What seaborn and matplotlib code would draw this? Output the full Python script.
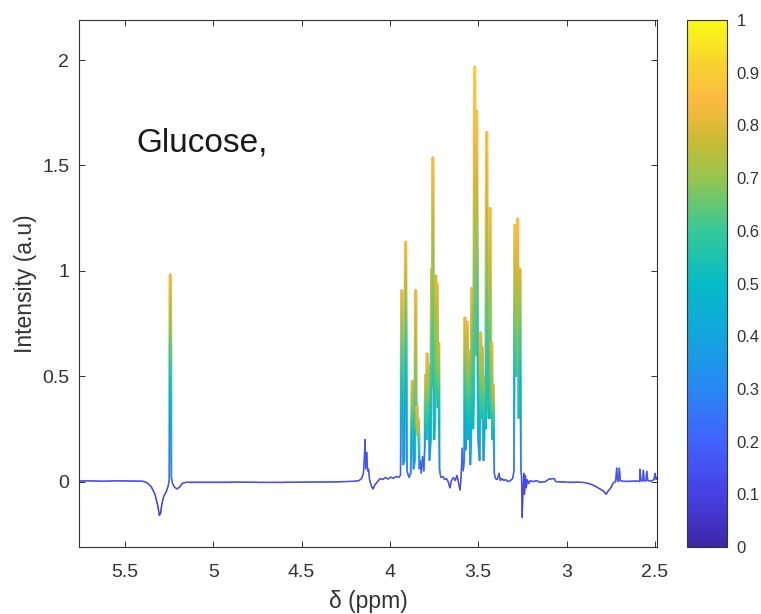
import numpy as np
import pandas as pd
import matplotlib
matplotlib.use("Agg")
import matplotlib.pyplot as plt
import seaborn as sns
from matplotlib.collections import LineCollection
from matplotlib.colors import LinearSegmentedColormap, Normalize
from matplotlib.cm import ScalarMappable
from matplotlib.ticker import FuncFormatter

# ---- spectrum trace: chemical shift (ppm), intensity (a.u.), correlation colour value ----
ppm = [
    5.760, 5.700, 5.620, 5.550, 5.470, 5.400, 5.375, 5.350, 5.330, 5.315,
    5.305, 5.298, 5.290, 5.280, 5.265, 5.255, 5.249, 5.243, 5.237, 5.230,
    5.220, 5.205, 5.190, 5.175, 5.150, 5.050, 4.900, 4.750, 4.600, 4.450,
    4.300, 4.200, 4.175, 4.160, 4.150, 4.145, 4.141, 4.137, 4.131, 4.126,
    4.121, 4.115, 4.105, 4.095, 4.085, 4.070, 4.055, 4.040, 4.025, 4.010,
    3.995, 3.980, 3.965, 3.950, 3.940, 3.932, 3.925, 3.918, 3.911, 3.903,
    3.892, 3.882, 3.873, 3.866, 3.859, 3.854, 3.850, 3.846, 3.842, 3.838,
    3.833, 3.828, 3.822, 3.815, 3.808, 3.803, 3.797, 3.793, 3.789, 3.785,
    3.782, 3.776, 3.769, 3.763, 3.760, 3.757, 3.750, 3.745, 3.741, 3.737,
    3.733, 3.728, 3.724, 3.719, 3.712, 3.700, 3.690, 3.680, 3.670, 3.660,
    3.652, 3.640, 3.630, 3.620, 3.610, 3.603, 3.597, 3.590, 3.585, 3.579,
    3.575, 3.570, 3.566, 3.562, 3.556, 3.551, 3.545, 3.541, 3.537, 3.530,
    3.525, 3.520, 3.514, 3.509, 3.500, 3.492, 3.486, 3.481, 3.477, 3.470,
    3.466, 3.462, 3.457, 3.452, 3.445, 3.439, 3.433, 3.428, 3.424, 3.419,
    3.415, 3.409, 3.402, 3.392, 3.382, 3.375, 3.365, 3.355, 3.345, 3.330,
    3.318, 3.305, 3.298, 3.292, 3.284, 3.277, 3.270, 3.264, 3.258, 3.255,
    3.251, 3.246, 3.242, 3.238, 3.233, 3.228, 3.222, 3.215, 3.205, 3.190,
    3.170, 3.150, 3.120, 3.100, 3.070, 3.060, 3.000, 2.950, 2.900, 2.870,
    2.840, 2.810, 2.790, 2.776, 2.765, 2.750, 2.735, 2.722, 2.716, 2.712,
    2.706, 2.701, 2.696, 2.680, 2.640, 2.600, 2.586, 2.584, 2.578, 2.568,
    2.565, 2.560, 2.550, 2.546, 2.540, 2.520, 2.505, 2.499, 2.493, 2.488,
]
intensity = [
    0.003, 0.004, 0.002, 0.004, 0.003, 0.002, -0.005, -0.025, -0.060, -0.110,
    -0.160, -0.150, -0.100, -0.070, -0.045, -0.020, 0.010, 0.985, 0.020, -0.010,
    -0.025, -0.035, -0.025, -0.008, -0.002, -0.002, -0.002, -0.003, -0.003, -0.002,
    -0.001, 0.002, 0.005, 0.015, 0.040, 0.100, 0.200, 0.060, 0.140, 0.050,
    0.060, 0.010, -0.020, -0.035, -0.015, 0.000, 0.015, 0.010, 0.020, 0.012,
    0.022, 0.015, 0.025, 0.020, 0.030, 0.910, 0.080, 0.100, 1.140, 0.050,
    0.020, 0.040, 0.480, 0.060, 0.100, 0.910, 0.250, 0.360, 0.220, 0.300,
    0.060, 0.100, 0.040, 0.120, 0.050, 0.150, 0.510, 0.200, 0.610, 0.250,
    0.560, 0.100, 0.200, 1.010, 0.450, 1.540, 0.200, 0.300, 0.980, 0.400,
    0.940, 0.350, 0.660, 0.060, 0.020, 0.025, 0.010, 0.015, 0.000, -0.030,
    0.005, 0.020, 0.005, 0.030, -0.010, -0.040, 0.020, 0.160, 0.050, 0.100,
    0.780, 0.150, 0.300, 0.760, 0.200, 0.620, 0.080, 0.200, 0.920, 0.250,
    0.400, 1.970, 0.600, 1.760, 0.200, 0.100, 0.710, 0.300, 0.640, 0.100,
    0.200, 0.500, 0.250, 1.660, 0.400, 0.300, 1.300, 0.300, 0.660, 0.200,
    0.460, 0.040, 0.015, 0.010, 0.040, 0.005, 0.015, 0.005, 0.010, 0.000,
    0.005, 0.015, 0.050, 1.220, 0.500, 1.250, 0.300, 1.010, 0.050, 0.030,
    -0.170, -0.020, 0.040, -0.060, 0.030, -0.030, 0.010, -0.010, 0.005, 0.000,
    0.005, -0.003, 0.000, 0.012, 0.015, 0.000, -0.002, -0.002, -0.004, -0.010,
    -0.020, -0.035, -0.045, -0.060, -0.045, -0.030, -0.005, 0.000, 0.065, 0.010,
    0.000, 0.065, 0.005, 0.002, 0.002, 0.003, 0.003, 0.060, 0.005, 0.003,
    0.055, 0.005, 0.003, 0.050, 0.005, 0.003, 0.010, 0.040, 0.010, 0.020,
]
correlation = [
    0.14, 0.14, 0.14, 0.14, 0.14, 0.14, 0.12, 0.11, 0.10, 0.09,
    0.08, 0.08, 0.09, 0.10, 0.11, 0.13, 0.25, 0.86, 0.30, 0.14,
    0.12, 0.11, 0.12, 0.13, 0.14, 0.14, 0.14, 0.14, 0.14, 0.14,
    0.14, 0.14, 0.14, 0.15, 0.15, 0.16, 0.18, 0.16, 0.17, 0.15,
    0.15, 0.14, 0.12, 0.11, 0.12, 0.14, 0.15, 0.15, 0.16, 0.15,
    0.16, 0.15, 0.17, 0.17, 0.20, 0.84, 0.35, 0.40, 0.86, 0.30,
    0.20, 0.30, 0.83, 0.35, 0.45, 0.84, 0.65, 0.84, 0.70, 0.82,
    0.35, 0.20, 0.15, 0.20, 0.18, 0.30, 0.83, 0.50, 0.84, 0.55,
    0.82, 0.35, 0.45, 0.80, 0.60, 0.87, 0.45, 0.55, 0.80, 0.60,
    0.82, 0.55, 0.80, 0.30, 0.18, 0.17, 0.15, 0.15, 0.14, 0.12,
    0.14, 0.15, 0.14, 0.15, 0.13, 0.11, 0.15, 0.22, 0.20, 0.30,
    0.83, 0.40, 0.50, 0.84, 0.45, 0.82, 0.35, 0.45, 0.86, 0.50,
    0.55, 0.92, 0.60, 0.88, 0.45, 0.35, 0.84, 0.55, 0.82, 0.35,
    0.45, 0.80, 0.50, 0.88, 0.55, 0.50, 0.86, 0.55, 0.82, 0.45,
    0.80, 0.25, 0.15, 0.14, 0.15, 0.14, 0.14, 0.14, 0.14, 0.14,
    0.14, 0.15, 0.25, 0.86, 0.60, 0.88, 0.55, 0.80, 0.25, 0.15,
    0.08, 0.12, 0.15, 0.10, 0.14, 0.12, 0.14, 0.14, 0.14, 0.14,
    0.14, 0.14, 0.14, 0.15, 0.15, 0.14, 0.14, 0.14, 0.14, 0.13,
    0.12, 0.11, 0.11, 0.10, 0.11, 0.12, 0.13, 0.14, 0.16, 0.14,
    0.14, 0.16, 0.14, 0.14, 0.14, 0.14, 0.14, 0.16, 0.14, 0.14,
    0.16, 0.14, 0.14, 0.16, 0.14, 0.14, 0.14, 0.15, 0.14, 0.14,
]

x_ticks = [5.5, 5.0, 4.5, 4.0, 3.5, 3.0, 2.5]
y_ticks = [0, 0.5, 1.0, 1.5, 2.0]
cbar_ticks = [0, 0.1, 0.2, 0.3, 0.4, 0.5, 0.6, 0.7, 0.8, 0.9, 1.0]
annotation = "Glucose,"

# ---- parula-like colour map ----
parula_stops = [
    (0.00, (0.242, 0.150, 0.660)),
    (0.10, (0.275, 0.255, 0.895)),
    (0.20, (0.255, 0.385, 0.990)),
    (0.30, (0.160, 0.530, 0.960)),
    (0.40, (0.070, 0.650, 0.870)),
    (0.50, (0.020, 0.730, 0.780)),
    (0.60, (0.210, 0.790, 0.600)),
    (0.70, (0.580, 0.775, 0.310)),
    (0.78, (0.810, 0.730, 0.200)),
    (0.85, (0.990, 0.730, 0.250)),
    (0.92, (0.970, 0.830, 0.180)),
    (1.00, (0.976, 0.984, 0.080)),
]
parula = LinearSegmentedColormap.from_list("parula_like", parula_stops, N=256)
norm = Normalize(0, 1)

sns.set_theme(style="white")
ink = (0.2, 0.2, 0.2)
plt.rcParams.update({
    "font.family": ["Liberation Sans", "DejaVu Sans"],
    "axes.edgecolor": ink,
    "axes.linewidth": 0.8,
    "xtick.color": ink,
    "ytick.color": ink,
    "axes.labelcolor": ink,
})

df = pd.DataFrame({"ppm": ppm, "intensity": intensity, "corr": correlation})
df = df.sort_values("ppm", ascending=False).reset_index(drop=True)

fig = plt.figure(figsize=(7.61, 6.14), dpi=100)
ax = fig.add_axes([0.1038, 0.1091, 0.7595, 0.8583])
cax = fig.add_axes([0.9028, 0.1091, 0.0526, 0.8583])

# underlying trace
sns.lineplot(data=df, x="ppm", y="intensity", ax=ax, sort=False, estimator=None,
             color=parula(norm(0.14)), linewidth=0.9, legend=False)

# colour-graded trace: each segment is split so the colour blends between its end values;
# the strongly correlated peaks are stroked a little heavier than the baseline
px = df["ppm"].to_numpy()
py = df["intensity"].to_numpy()
pc = df["corr"].to_numpy()
segs, vals = [], []
for i in range(len(px) - 1):
    n = int(abs(py[i + 1] - py[i]) * 80) + 2
    t = np.linspace(0, 1, n + 1)
    xs = px[i] + (px[i + 1] - px[i]) * t
    ys = py[i] + (py[i + 1] - py[i]) * t
    cs = pc[i] + (pc[i + 1] - pc[i]) * t
    for k in range(n):
        segs.append([(xs[k], ys[k]), (xs[k + 1], ys[k + 1])])
        vals.append(0.5 * (cs[k] + cs[k + 1]))
vals = np.array(vals)
widths = 1.0 + 1.3 * np.clip((vals - 0.18) / 0.45, 0, 1)
lc = LineCollection(segs, cmap=parula, norm=norm, linewidths=widths, alpha=0.85,
                    capstyle="butt", joinstyle="round")
lc.set_array(vals)
ax.add_collection(lc)

ax.set_xlim(5.76, 2.488)
ax.set_ylim(-0.31, 2.19)
ax.set_xticks(x_ticks)
ax.set_yticks(y_ticks)
fmt = FuncFormatter(lambda v, _: f"{v:g}")
ax.xaxis.set_major_formatter(fmt)
ax.yaxis.set_major_formatter(fmt)
ax.tick_params(direction="in", length=4, width=0.7, labelsize=14,
               top=True, right=True, bottom=True, left=True)
ax.tick_params(axis="x", pad=12)
ax.tick_params(axis="y", pad=7)
for s in ax.spines.values():
    s.set_visible(True)
    s.set_color(ink)
ax.set_xlabel("δ (ppm)", fontsize=16.5, labelpad=7)
ax.set_ylabel("Intensity (a.u)", fontsize=16.5, labelpad=4)

ax.text(0.100, 0.75, annotation, transform=ax.transAxes, fontsize=24,
        color=(0.1, 0.1, 0.1), ha="left", va="baseline")

sm = ScalarMappable(norm=norm, cmap=parula)
cb = fig.colorbar(sm, cax=cax, ticks=cbar_ticks)
cb.ax.yaxis.set_major_formatter(fmt)
cb.outline.set_edgecolor(ink)
cb.outline.set_linewidth(0.8)
cax.tick_params(direction="in", length=4, width=0.7, labelsize=12, right=True,
                left=False, pad=7, colors=ink)

fig.savefig("out.png", dpi=100)
